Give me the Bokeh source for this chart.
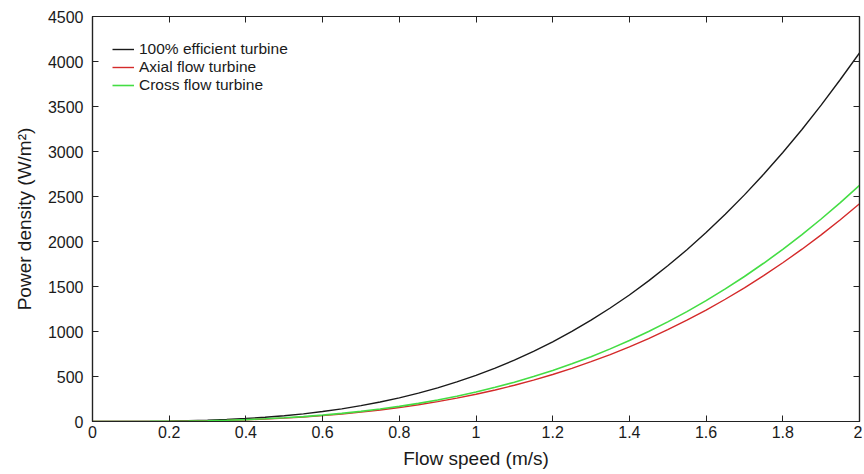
from bokeh.plotting import figure
from bokeh.models import LinearAxis, FixedTicker, CustomJSTickFormatter, Range1d, Legend, LegendItem
from bokeh.embed import file_html
from bokeh.resources import INLINE

flow_speed = [0.0, 0.05, 0.1, 0.15, 0.2, 0.25, 0.3, 0.35, 0.4, 0.45, 0.5,
              0.55, 0.6, 0.65, 0.7, 0.75, 0.8, 0.85, 0.9, 0.95, 1.0,
              1.05, 1.1, 1.15, 1.2, 1.25, 1.3, 1.35, 1.4, 1.45, 1.5,
              1.55, 1.6, 1.65, 1.7, 1.75, 1.8, 1.85, 1.9, 1.95, 2.0]
ideal = [0, 0.06, 0.5, 1.7, 4.1, 8.0, 13.8, 22.0, 32.8, 46.7, 64.1,
         85.3, 110.7, 140.7, 175.8, 216.2, 262.4, 314.8, 373.6, 439.4, 512.5,
         593.3, 682.1, 779.5, 885.6, 1001, 1126, 1261, 1406, 1562, 1730,
         1908, 2099, 2302, 2518, 2747, 2989, 3245, 3515, 3800, 4095]
axial = [0, 0.04, 0.3, 1.0, 2.4, 4.7, 8.1, 13.0, 19.4, 27.6, 37.8,
         50.3, 65.3, 83.0, 103.7, 127.6, 154.8, 185.7, 220.4, 259.2, 302.4,
         350.0, 402.4, 459.9, 522.5, 590.6, 664.3, 744.0, 829.5, 921.6, 1020.7,
         1125.7, 1238.4, 1358.2, 1485.6, 1620.7, 1763.5, 1914.6, 2073.9, 2242, 2419]
cross = [0, 0.04, 0.3, 1.1, 2.6, 5.1, 8.8, 14.1, 21.0, 29.9, 41.0,
         54.6, 70.8, 90.0, 112.5, 138.4, 167.9, 201.5, 239.1, 281.2, 328.0,
         379.7, 436.5, 498.9, 566.8, 640.6, 720.6, 807.0, 900.0, 999.7, 1107,
         1221, 1343, 1473, 1611, 1758, 1913, 2077, 2250, 2432, 2624]
series_names = ["100% efficient turbine", "Axial flow turbine", "Cross flow turbine"]
x_ticks = [0, 0.2, 0.4, 0.6, 0.8, 1.0, 1.2, 1.4, 1.6, 1.8, 2.0]
y_ticks = [0, 500, 1000, 1500, 2000, 2500, 3000, 3500, 4000, 4500]

FONT = "Liberation Sans"

p = figure(width=862, height=472, output_backend="svg", toolbar_location=None,
           x_range=Range1d(0, 2), y_range=Range1d(0, 4500),
           min_border_left=92, min_border_right=3, min_border_top=16, min_border_bottom=51)
p.xgrid.visible = False
p.ygrid.visible = False
p.outline_line_color = "#222222"
p.outline_line_width = 1.2
p.background_fill_color = "white"
p.border_fill_color = "white"

fmt = CustomJSTickFormatter(code="return tick.toFixed(1).replace(/\\.0$/, '');")

def style(ax, labels=True):
    ax.axis_line_color = "#222222"
    ax.axis_line_width = 1.2
    ax.major_tick_in = 6
    ax.major_tick_out = 0
    ax.minor_tick_line_color = None
    ax.major_tick_line_color = "#222222"
    ax.major_tick_line_width = 1
    ax.major_label_text_color = "#1a1a1a"
    ax.major_label_text_font = FONT
    ax.major_label_text_font_size = "16px"
    if not labels:
        ax.major_label_text_font_size = "0px"
        ax.major_label_text_color = None

xa = p.xaxis[0]
xa.ticker = FixedTicker(ticks=x_ticks)
xa.formatter = fmt
style(xa)
xa.major_label_standoff = 4
xa.axis_label = "Flow speed (m/s)"
xa.axis_label_text_font = FONT
xa.axis_label_text_font_size = "19px"
xa.axis_label_text_font_style = "normal"
xa.axis_label_text_color = "#1a1a1a"
xa.axis_label_standoff = 7

ya = p.yaxis[0]
ya.ticker = FixedTicker(ticks=y_ticks)
style(ya)
ya.major_label_standoff = 9
ya.axis_label = "Power density (W/m²)"
ya.axis_label_text_font = FONT
ya.axis_label_text_font_size = "19px"
ya.axis_label_text_font_style = "normal"
ya.axis_label_text_color = "#1a1a1a"
ya.axis_label_standoff = 10

top = LinearAxis(ticker=FixedTicker(ticks=x_ticks))
style(top, labels=False)
p.add_layout(top, "above")
right = LinearAxis(ticker=FixedTicker(ticks=y_ticks))
style(right, labels=False)
p.add_layout(right, "right")

r1 = p.line(flow_speed, ideal, line_color="#1a1a1a", line_width=1.4)
r2 = p.line(flow_speed, axial, line_color="#d42a2a", line_width=1.4)
r3 = p.line(flow_speed, cross, line_color="#44dd44", line_width=1.6)

legend = Legend(items=[LegendItem(label=series_names[0], renderers=[r1]),
                       LegendItem(label=series_names[1], renderers=[r2]),
                       LegendItem(label=series_names[2], renderers=[r3])],
                location="top_left")
legend.title = " "
legend.title_text_font_size = "1px"
legend.title_standoff = 3
legend.border_line_color = None
legend.background_fill_alpha = 0
legend.label_text_font = FONT
legend.label_text_font_size = "15.5px"
legend.label_text_color = "#1a1a1a"
legend.label_height = 18
legend.glyph_height = 18
legend.glyph_width = 22
legend.spacing = 0
legend.padding = 5
legend.margin = 20
legend.label_standoff = 5
p.add_layout(legend, "center")

open("out.html", "w").write(file_html(p, INLINE))
